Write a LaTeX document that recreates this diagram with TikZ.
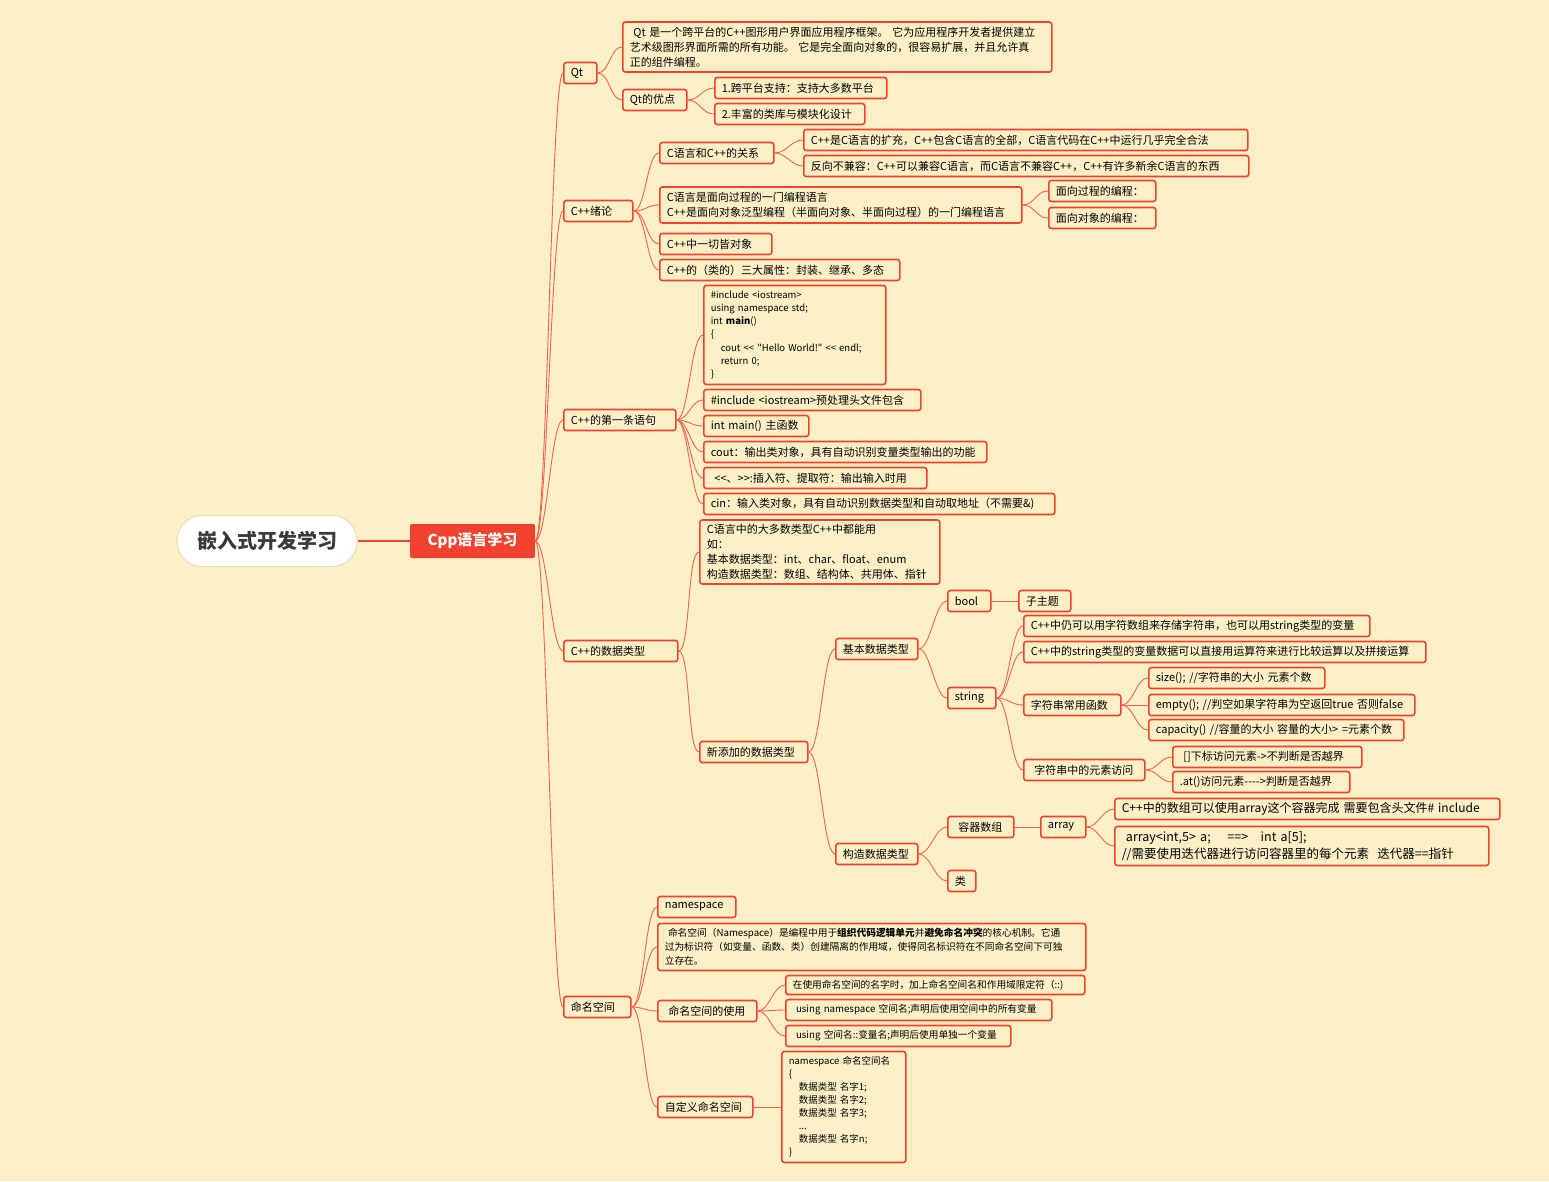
\documentclass[tikz,border=0pt]{standalone}
\usepackage{fontspec}
\setmainfont{Noto Sans CJK SC}[Ligatures=TeXOff]
\definecolor{bg}{RGB}{253,240,199}
\definecolor{rd}{RGB}{240,66,46}
\definecolor{ln}{RGB}{243,98,78}
\definecolor{dk}{RGB}{58,58,58}
\definecolor{pl}{RGB}{236,220,180}
\newcommand{\smallfs}{\fontsize{9.7}{14}\selectfont}
\newcommand{\codefs}{\fontsize{9.5}{13.3}\selectfont}
\newcommand{\cind}{\hspace*{10pt}}

\begin{document}
\begin{tikzpicture}[x=1pt,y=-1pt,every node/.style={font=\fontsize{11}{15}\selectfont},
 b/.style={draw=rd,line width=1.6pt,rounded corners=2.5pt,fill=bg,anchor=west,align=left,
  minimum height=21pt,inner xsep=7pt,inner ysep=2pt,
  /utils/exec={\pgfmathsetlengthmacro\boxw{#1-14}},text width=\boxw},
 lk/.style={draw=ln,line width=0.9pt,to path={.. controls +(12,0) and +(-12,0) .. (\tikztotarget)}}]
\fill[bg] (0,0) rectangle (1549,1181);
% root and main topic
\node[fill=white,draw=pl,line width=1pt,rounded corners=25pt,minimum width=180,minimum height=51,
 font=\fontsize{20}{24}\selectfont\bfseries,text=dk] (emb) at (267,541) {嵌入式开发学习};
\node[fill=rd,text=white,rounded corners=2pt,minimum width=125,minimum height=34,
 font=\fontsize{15}{18}\selectfont\bfseries] (cpp) at (472.5,541) {Cpp语言学习};
% Qt
\node[b=33] (qt) at (563,73) {Qt};
\node[b=429,minimum height=50] (qtd) at (622,47) {\ Qt 是一个跨平台的C++图形用户界面应用程序框架。 它为应用程序开发者提供建立\\艺术级图形界面所需的所有功能。 它是完全面向对象的，很容易扩展，并且允许真\\正的组件编程。};
\node[b=64] (qty) at (622,100) {Qt的优点};
\node[b=172] (qy1) at (714,88) {1.跨平台支持：支持大多数平台};
\node[b=150] (qy2) at (714,114) {2.丰富的类库与模块化设计};
% C++绪论
\node[b=69] (cxx) at (563,211) {C++绪论};
\node[b=114] (rel) at (659,153) {C语言和C++的关系};
\node[b=444] (rel1) at (803,140) {C++是C语言的扩充，C++包含C语言的全部，C语言代码在C++中运行几乎完全合法};
\node[b=445] (rel2) at (803,166) {反向不兼容：C++可以兼容C语言，而C语言不兼容C++，C++有许多新余C语言的东西};
\node[b=362,minimum height=36] (pp) at (659,205) {C语言是面向过程的一门编程语言\\C++是面向对象泛型编程（半面向对象、半面向过程）的一门编程语言};
\node[b=107] (pp1) at (1048,191) {面向过程的编程：};
\node[b=107] (pp2) at (1048,218) {面向对象的编程：};
\node[b=112] (obj) at (659,244) {C++中一切皆对象};
\node[b=240] (prop) at (659,270) {C++的（类的）三大属性：封装、继承、多态};
% first program
\node[b=112] (first) at (563,420) {C++的第一条语句};
\node[b=182,minimum height=99,font=\codefs] (code) at (703,335) {\#include <iostream>\\using namespace std;\\int \textbf{main}()\\\{\\\cind cout << "Hello World!" << endl;\\\cind return 0;\\\}};
\node[b=217] (inc) at (703,400) {\#include <iostream>预处理头文件包含};
\node[b=105] (mainf) at (703,426) {int main() 主函数};
\node[b=283] (cout) at (703,452) {cout：输出类对象，具有自动识别变量类型输出的功能};
\node[b=223] (ops) at (703,478) {\ <<、>>:插入符、提取符：输出输入时用};
\node[b=351] (cin) at (703,504) {cin：输入类对象，具有自动识别数据类型和自动取地址（不需要\&)};
% data types
\node[b=114] (dt) at (563,651) {C++的数据类型};
\node[b=240,minimum height=64] (dtc) at (699,552) {C语言中的大多数类型C++中都能用\\如：\\基本数据类型：int、char、float、enum\\构造数据类型：数组、结构体、共用体、指针};
\node[b=108] (newt) at (699,752) {新添加的数据类型};
\node[b=82] (basic) at (835,649) {基本数据类型};
\node[b=43] (bool) at (947,601) {bool};
\node[b=52] (sub) at (1018,601) {子主题};
\node[b=48] (str) at (947,698) {string};
\node[b=346] (s1) at (1023,626) {C++中仍可以用字符数组来存储字符串，也可以用string类型的变量};
\node[b=402] (s2) at (1023,652) {C++中的string类型的变量数据可以直接用运算符来进行比较运算以及拼接运算};
\node[b=97] (sf) at (1023,705) {字符串常用函数};
\node[b=176] (f1) at (1148,678) {size(); //字符串的大小 元素个数};
\node[b=266] (f2) at (1148,705) {empty(); //判空如果字符串为空返回true 否则false};
\node[b=255] (f3) at (1148,730) {capacity() //容量的大小 容量的大小> =元素个数};
\node[b=121] (sa) at (1023,770) {\ 字符串中的元素访问};
\node[b=189] (a1) at (1172,757) {\ []下标访问元素->不判断是否越界};
\node[b=177] (a2) at (1172,782) {.at()访问元素---->判断是否越界};
\node[b=82] (cons) at (835,854) {构造数据类型};
\node[b=66] (cont) at (947,827) {\ 容器数组};
\node[b=45] (arr) at (1040,827) {array};
\node[b=385,font=\fontsize{12}{17}\selectfont] (ar1) at (1114,809) {\mbox{C++中的数组可以使用array这个容器完成 需要包含头文件\# include}};
\node[b=374,minimum height=39,font=\fontsize{12.5}{17}\selectfont] (ar2) at (1114,846) {\ array<int,5> a;\quad\ ==>\quad int a[5];\\//需要使用迭代器进行访问容器里的每个元素\ \ 迭代器==指针};
\node[b=28] (cls) at (947,881) {类};
% namespace
\node[b=67] (ns) at (563,1007) {命名空间};
\node[b=78] (nsn) at (657,907) {namespace};
\node[b=428,minimum height=47,font=\smallfs] (nsd) at (657,947) {\ 命名空间（Namespace）是编程中用于\textbf{组织代码逻辑单元}并\textbf{避免命名冲突}的核心机制。它通\\过为标识符（如变量、函数、类）创建隔离的作用域，使得同名标识符在不同命名空间下可独\\立存在。};
\node[b=99] (nsu) at (657,1011) {\ 命名空间的使用};
\node[b=299,minimum height=19,font=\smallfs] (u1) at (785,985) {在使用命名空间的名字时，加上命名空间名和作用域限定符（::)};
\node[b=266,font=\smallfs] (u2) at (785,1010) {\ using namespace 空间名;声明后使用空间中的所有变量};
\node[b=225,font=\smallfs] (u3) at (785,1036) {\ using 空间名::变量名;声明后使用单独一个变量};
\node[b=95] (nsc) at (657,1107) {自定义命名空间};
\node[b=124,minimum height=111,font=\fontsize{9.5}{13}\selectfont] (nsb) at (781,1107) {namespace 命名空间名\\\{\\\cind 数据类型 名字1;\\\cind 数据类型 名字2;\\\cind 数据类型 名字3;\\\cind ...\\\cind 数据类型 名字n;\\\}};
% connectors
\draw[rd,line width=1.3pt] (emb) -- (cpp);
\draw[lk] (cpp.east) to (qt.west); \draw[lk] (cpp.east) to (cxx.west); \draw[lk] (cpp.east) to (first.west);
\draw[lk] (cpp.east) to (dt.west); \draw[lk] (cpp.east) to (ns.west);
\draw[lk] (qt.east) to (qtd.west); \draw[lk] (qt.east) to (qty.west);
\draw[lk] (qty.east) to (qy1.west); \draw[lk] (qty.east) to (qy2.west);
\draw[lk] (cxx.east) to (rel.west); \draw[lk] (cxx.east) to (pp.west); \draw[lk] (cxx.east) to (obj.west); \draw[lk] (cxx.east) to (prop.west);
\draw[lk] (rel.east) to (rel1.west); \draw[lk] (rel.east) to (rel2.west);
\draw[lk] (pp.east) to (pp1.west); \draw[lk] (pp.east) to (pp2.west);
\draw[lk] (first.east) to (code.west); \draw[lk] (first.east) to (inc.west); \draw[lk] (first.east) to (mainf.west);
\draw[lk] (first.east) to (cout.west); \draw[lk] (first.east) to (ops.west); \draw[lk] (first.east) to (cin.west);
\draw[lk] (dt.east) to (dtc.west); \draw[lk] (dt.east) to (newt.west);
\draw[lk] (newt.east) to (basic.west); \draw[lk] (newt.east) to (cons.west);
\draw[lk] (basic.east) to (bool.west); \draw[lk] (basic.east) to (str.west);
\draw[lk] (bool.east) to (sub.west);
\draw[lk] (str.east) to (s1.west); \draw[lk] (str.east) to (s2.west); \draw[lk] (str.east) to (sf.west); \draw[lk] (str.east) to (sa.west);
\draw[lk] (sf.east) to (f1.west); \draw[lk] (sf.east) to (f2.west); \draw[lk] (sf.east) to (f3.west);
\draw[lk] (sa.east) to (a1.west); \draw[lk] (sa.east) to (a2.west);
\draw[lk] (cons.east) to (cont.west); \draw[lk] (cons.east) to (cls.west);
\draw[lk] (cont.east) to (arr.west);
\draw[lk] (arr.east) to (ar1.west); \draw[lk] (arr.east) to (ar2.west);
\draw[lk] (ns.east) to (nsn.west); \draw[lk] (ns.east) to (nsd.west); \draw[lk] (ns.east) to (nsu.west); \draw[lk] (ns.east) to (nsc.west);
\draw[lk] (nsu.east) to (u1.west); \draw[lk] (nsu.east) to (u2.west); \draw[lk] (nsu.east) to (u3.west);
\draw[lk] (nsc.east) to (nsb.west);
\end{tikzpicture}
\end{document}
